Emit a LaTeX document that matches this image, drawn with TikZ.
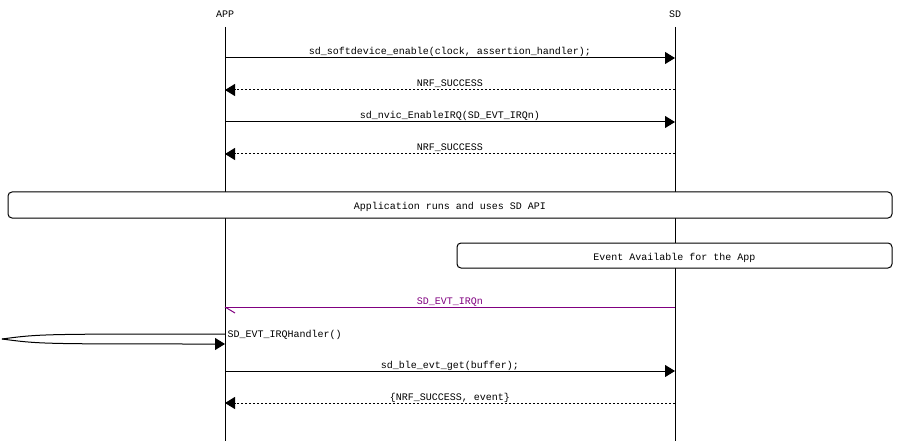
\documentclass[tikz,border=0pt]{standalone}
\usepackage{fontspec}
\setmonofont{Liberation Mono}
\usetikzlibrary{arrows.meta}
\definecolor{irqpurple}{HTML}{800080}

\begin{document}
\begin{tikzpicture}[x=1pt,y=-1pt,line width=1pt,
    lbl/.style={font=\ttfamily\fontsize{10}{12}\selectfont,inner sep=0pt,anchor=base},
    msg/.style={-{Triangle[length=10pt,width=12pt]}},
    reply/.style={msg,dash pattern=on 2pt off 2pt},
    note/.style={draw,fill=white,rounded corners=4pt,inner sep=0pt,
                 text height=10pt,text depth=0pt,
                 font=\ttfamily\fontsize{10}{12}\selectfont}]
    \def\xa{225} % APP lifeline
    \def\xs{675} % SD lifeline

\useasboundingbox (0,0) rectangle (900,441);

% entities and lifelines
\node[lbl] (app) at (\xa,18) {APP};
\node[lbl] (sd) at (\xs,18) {SD};
\coordinate (appTop) at (\xa,27);
\coordinate (sdTop) at (\xs,27);
\coordinate (appEnd) at (\xa,441);
\coordinate (sdEnd) at (\xs,441);
\draw (appTop) -- (appEnd);
\draw (sdTop) -- (sdEnd);

% one coordinate pair per message row
\foreach \n/\y in {m1/58,m2/90,m3/122,m4/154,irq/307,hb/334,ha/344,m5/371,m6/403} {
    \coordinate (a\n) at (\xa,\y);
    \coordinate (s\n) at (\xs,\y);
}

% enable calls
\draw[msg] (am1) -- node[lbl,yshift=3pt] (t1) {sd\_softdevice\_enable(clock, assertion\_handler);} (sm1);
\draw[reply] (sm2) -- node[lbl,yshift=3pt] (t2) {NRF\_SUCCESS} (am2);
\draw[msg] (am3) -- node[lbl,yshift=3pt] (t3) {sd\_nvic\_EnableIRQ(SD\_EVT\_IRQn)} (sm3);
\draw[reply] (sm4) -- node[lbl,yshift=3pt] (t4) {NRF\_SUCCESS} (am4);

% boxes across the chart
\node[note,minimum width=884pt,minimum height=26pt] (runs) at (450,205) {Application runs and uses SD API};
\node[note,minimum width=435pt,minimum height=25pt] (avail) at (674.5,255.5) {Event Available for the App};

% interrupt from SD, half arrow head only
\draw[irqpurple] (sirq) -- node[lbl,yshift=3pt] (t5) {SD\_EVT\_IRQn} (airq);
\coordinate (irqBarb) at (235,313);
\draw[irqpurple] (airq) -- (irqBarb);

% handler entered from outside the chart
\coordinate (outer) at (2,339);
\draw (outer) .. controls (40,334) .. (ahb);
\draw[msg] (outer) .. controls (40,344) .. (aha);
\node[lbl,anchor=base west] (t6) at (227,337) {SD\_EVT\_IRQHandler()};

% fetch the event
\draw[msg] (am5) -- node[lbl,yshift=3pt] (t7) {sd\_ble\_evt\_get(buffer);} (sm5);
\draw[reply] (sm6) -- node[lbl,yshift=3pt] (t8) {\{NRF\_SUCCESS, event\}} (am6);

\end{tikzpicture}
\end{document}
